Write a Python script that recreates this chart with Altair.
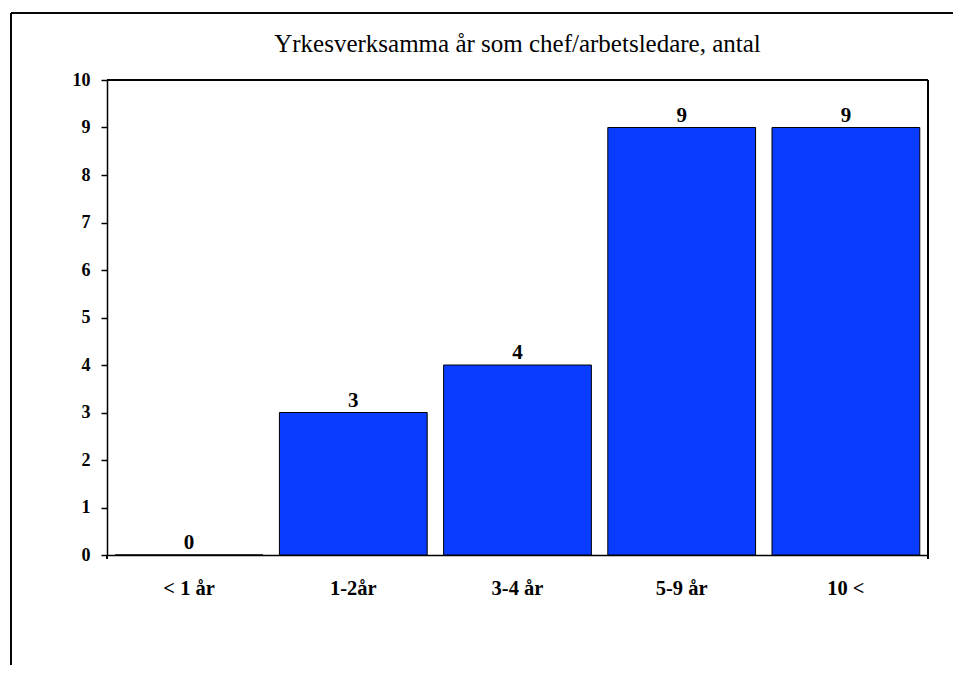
import altair as alt
import pandas as pd

categories = ["< 1 år", "1-2år", "3-4 år", "5-9 år", "10 <"]
values = [0, 3, 4, 9, 9]
y_ticks = [i / 2 for i in range(0, 21)]

df = pd.DataFrame({"cat": categories, "val": values})

FONT = "Liberation Serif"
W, H = 821, 475

x_enc = alt.X("cat:N", sort=categories, title=None,
              scale=alt.Scale(paddingInner=0, paddingOuter=0),
              axis=alt.Axis(labelAngle=0, labelFont=FONT, labelFontSize=20.5,
                            labelFontWeight="bold", labelColor="black",
                            labelPadding=23, ticks=False,
                            domainColor="black", domainWidth=1.5))
y_enc = alt.Y("val:Q", title=None,
              scale=alt.Scale(domain=[0, 10], nice=False),
              axis=alt.Axis(values=y_ticks, labelFont=FONT, labelFontSize=18,
                            labelFontWeight="bold", labelColor="black",
                            labelExpr="datum.value % 1 === 0 ? datum.label : ''",
                            labelPadding=11,
                            tickSize={"condition": {"test": "datum.value % 1 === 0", "value": 6}, "value": 3},
                            tickColor="black", tickWidth=1.5, grid=False,
                            domainColor="black", domainWidth=1.5))

bars = alt.Chart(df).mark_bar(
    color="#0A3CFF", stroke="black", strokeWidth=1,
    width=alt.RelativeBandSize(0.9)
).encode(x=x_enc, y=y_enc)

labels = alt.Chart(df).mark_text(
    font=FONT, fontSize=21, fontWeight="bold", color="black",
    baseline="alphabetic", dy=-6
).encode(x=alt.X("cat:N", sort=categories), y="val:Q", text="val:Q")

frame_top = alt.Chart(df).mark_rule(color="black", strokeWidth=1, clip=False).encode(
    x=alt.value(-96), x2=alt.value(W + 30), y=alt.value(-67))
frame_left = alt.Chart(df).mark_rule(color="black", strokeWidth=1, clip=False).encode(
    x=alt.value(-96), y=alt.value(-67), y2=alt.value(H + 120))
edge_l = alt.Chart(df).mark_rule(color="black", strokeWidth=1.5, clip=False).encode(
    x=alt.value(0), y=alt.value(H), y2=alt.value(H + 4))
edge_r = alt.Chart(df).mark_rule(color="black", strokeWidth=1.5, clip=False).encode(
    x=alt.value(W), y=alt.value(0), y2=alt.value(H + 4))
top_line = alt.Chart(df).mark_rule(color="black", strokeWidth=1.5, clip=False).encode(
    x=alt.value(0), x2=alt.value(W), y=alt.value(0))

chart = alt.layer(bars, labels, frame_top, frame_left, edge_l, edge_r, top_line).properties(
    width=W, height=H,
    title=alt.TitleParams("Yrkesverksamma år som chef/arbetsledare, antal",
                          font=FONT, fontSize=25, fontWeight="normal",
                          color="black", anchor="middle", offset=-44),
    autosize=alt.AutoSizeParams(type="none"),
    padding={"left": 99, "top": 72, "right": 25, "bottom": 110},
).configure_view(stroke=None).configure(background="white")

chart.save("out.html", embed_options={"renderer": "svg", "actions": False})
